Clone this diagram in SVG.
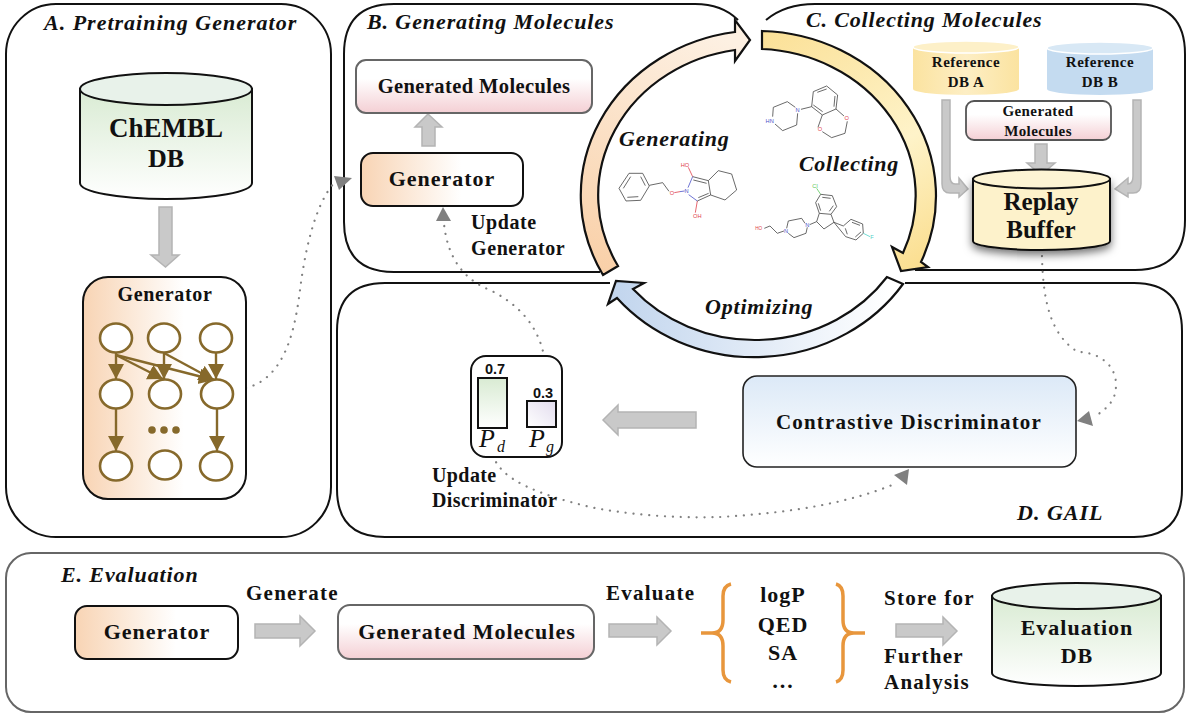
<svg xmlns="http://www.w3.org/2000/svg" width="1190" height="717" viewBox="0 0 1190 717">
<style>
text{font-family:"Liberation Serif","Times New Roman",serif;font-weight:bold;fill:#111}
.t{font-style:italic;font-size:22px;letter-spacing:.9px}
.c{text-anchor:middle}
.s{font-size:21px;letter-spacing:1.25px}
.panel{fill:none;stroke:#111;stroke-width:2}
.ga{fill:#c9c9c9;stroke:#b4b4b4;stroke-width:1.5}
.dot{fill:none;stroke:#808080;stroke-width:2.200;stroke-linecap:round;stroke-dasharray:.1 7.800}
.hd{fill:#808080}
.n{fill:#fff;stroke:#86692b;stroke-width:2.6}
.e{stroke:#86692b;stroke-width:2.4;fill:none;marker-end:url(#br)}
.arc{stroke:#111;stroke-width:2.2;stroke-linejoin:miter}
.m{fill:none;stroke:#444;stroke-width:2.4}
.mr{fill:none;stroke:#e0404a;stroke-width:2.4}
.mb{fill:none;stroke:#4a50c8;stroke-width:2.4}
.a{font-family:"Liberation Sans",Arial,sans-serif;font-weight:normal;font-size:17px}
.brace{fill:none;stroke:#e8963c;stroke-width:3.5}
</style>
<defs>
<marker id="br" markerUnits="userSpaceOnUse" markerWidth="18" markerHeight="18" refX="15" refY="8" orient="auto"><path d="M0 0L15 8L0 16Z" fill="#86692b"/></marker>
<linearGradient id="green" x1="0" y1="0" x2="0" y2="1"><stop offset="0" stop-color="#d9ebd3"/><stop offset="1" stop-color="#fff"/></linearGradient>
<linearGradient id="peach" x1="0" y1="0" x2="1" y2="0"><stop offset="0" stop-color="#f8d4b4"/><stop offset=".62" stop-color="#fff"/><stop offset="1" stop-color="#fff"/></linearGradient>
<linearGradient id="pink" x1="0" y1="0" x2="0" y2="1"><stop offset="0" stop-color="#fff"/><stop offset=".35" stop-color="#fff"/><stop offset="1" stop-color="#f4cfd4"/></linearGradient>
<linearGradient id="blue" x1="0" y1="0" x2="0" y2="1"><stop offset="0" stop-color="#dce9f7"/><stop offset="1" stop-color="#fff"/></linearGradient>
<linearGradient id="ya" x1="0" y1="0" x2="1" y2="0"><stop offset="0" stop-color="#fbe3a0"/><stop offset=".5" stop-color="#fdeec4"/><stop offset="1" stop-color="#fbe3a0"/></linearGradient>
<linearGradient id="ba" x1="0" y1="0" x2="1" y2="0"><stop offset="0" stop-color="#c4dbf0"/><stop offset="1" stop-color="#c4dbf0"/></linearGradient>
<linearGradient id="aO" gradientUnits="userSpaceOnUse" x1="600" y1="280" x2="700" y2="30"><stop offset="0" stop-color="#f9cfa6"/><stop offset="1" stop-color="#fdf0e2"/></linearGradient>
<linearGradient id="aY" gradientUnits="userSpaceOnUse" x1="762" y1="30" x2="905" y2="270"><stop offset="0" stop-color="#fbe096"/><stop offset=".6" stop-color="#fef3c9"/><stop offset="1" stop-color="#fbdf92"/></linearGradient>
<linearGradient id="aB" gradientUnits="userSpaceOnUse" x1="620" y1="300" x2="890" y2="300"><stop offset="0" stop-color="#c3d6ee"/><stop offset="1" stop-color="#fff"/></linearGradient>
<linearGradient id="pg" x1="1" y1="0" x2="0" y2="1"><stop offset="0" stop-color="#e2dcee"/><stop offset="1" stop-color="#fff"/></linearGradient>
<filter id="sh" x="-10%" y="-10%" width="120%" height="130%"><feDropShadow dx="0" dy="4" stdDeviation="4" flood-color="#000" flood-opacity=".55"/></filter>
</defs>

<g id="panel-a"><rect class="panel" x="6" y="4" width="325" height="533" rx="50"/><text class="t" x="44" y="30" style="letter-spacing:1px">A. Pretraining Generator</text></g>
<g id="panel-b"><path class="panel" d="M600 272H394Q344 272 344 222V54Q344 4 394 4H695Q722 4 738 20"/><text class="t" x="367" y="29">B. Generating Molecules</text></g>
<g id="panel-c"><path class="panel" d="M766 20Q785 4 815 4H1135Q1185 4 1185 54V220Q1185 270 1135 270H915"/><text class="t" x="806" y="27" style="letter-spacing:.85px">C. Collecting Molecules</text></g>
<g id="panel-d"><path class="panel" d="M610 283H385Q337 283 337 331V489Q337 537 385 537H1134Q1182 537 1182 489V331Q1182 283 1134 283H905"/><text class="t" x="1017" y="520" style="letter-spacing:1px">D. GAIL</text></g>
<g id="panel-e"><rect x="6" y="553" width="1178" height="159" rx="25" fill="none" stroke="#666" stroke-width="2"/><text class="t" x="61" y="582">E. Evaluation</text></g>

<g id="cycle">
<path class="arc" fill="url(#aO)" d="M603 275A179 165 0 0 1 735 32L735 20L750 40L735 61L735 50A161 147 0 0 0 618 266Z"/>
<path class="arc" fill="url(#aY)" d="M762 31A179 165 0 0 1 921 262L928 267L901 271L892 247L903 253A161 147 0 0 0 762 49Z"/>
<path class="arc" fill="url(#aB)" d="M903 284A179 165 0 0 1 617 298L608 304L616 281L644 283L633 289A161 147 0 0 0 887 277Z"/>
<text class="t" x="619" y="146" style="letter-spacing:.8px">Generating</text>
<text class="t" x="799" y="171" style="letter-spacing:.7px">Collecting</text>
<text class="t" x="705" y="314" style="letter-spacing:.8px">Optimizing</text>
</g>

<g id="molecules" transform="translate(570 20) scale(.3333)">
<path class="m" d="M147 505L177 460L218 460L238 498L212 541L168 543ZM160 505L182 470M212 470L226 497M205 530L172 532M238 496L278 488L297 514"/>
<path class="mr" d="M313 518L330 515M355 442L368 470M382 543L376 578"/>
<path class="mb" d="M330 515L344 513M354 503L368 470M356 524L382 543"/>
<path class="m" d="M368 470L415 482L422 525L382 543M370 480L410 490M385 533L416 520M415 482L445 452L485 462L500 510L465 540L422 525"/>
<text class="a c" x="306" y="526" style="fill:#e0404a">O</text><text class="a c" x="350" y="520" style="fill:#4a50c8">N</text>
<text class="a c" x="345" y="440" style="fill:#e0404a">HO</text><text class="a c" x="382" y="595" style="fill:#e0404a">OH</text>

<path class="m" d="M730 215L770 198L803 225L798 267L757 285L725 260ZM742 217L770 207M795 228L792 260M758 275L730 255M798 267L822 288M832 304L825 340L785 353L757 335M744 322L757 285M725 260L693 268M676 262L652 245L610 262L608 290M615 312L638 332L680 315L683 280"/>
<text class="a c" x="830" y="301" style="fill:#e0404a">O</text><text class="a c" x="750" y="333" style="fill:#e0404a">O</text>
<text class="a c" x="683" y="277" style="fill:#4a50c8">N</text><text class="a c" x="599" y="310" style="fill:#4a50c8">HN</text>

<path class="m" d="M752 523L787 527L800 560L783 583L748 580L737 548ZM757 532L782 535M790 557L778 574M752 572L745 550M748 580L740 605L762 627L792 607L783 583M740 605L719 614M792 607L820 618L843 598L878 612L880 640L858 660L827 650ZM846 607L870 616M873 636L856 651M832 643L826 625M705 610L695 595L655 603L650 625M655 640L672 653L708 640L712 622M642 633L622 640L600 618L583 625"/>
<path d="M740 505L752 523" stroke="#5ac85a" stroke-width="2.4"/>
<path d="M880 640L900 650" stroke="#50d0c8" stroke-width="2.4"/>
<text class="a c" x="735" y="503" style="fill:#5ac85a">Cl</text><text class="a c" x="906" y="656" style="fill:#50d0c8">F</text>
<text class="a c" x="712" y="621" style="fill:#4a50c8">N</text><text class="a c" x="648" y="638" style="fill:#4a50c8">N</text>
<text class="a c" x="566" y="631" style="fill:#e0404a;font-size:14px">HO</text>
</g>

<g id="connectors">
<path class="ga" d="M159 207H172V255H179L165.500 267L151 255H159Z"/>
<path class="ga" d="M422 146V127H415L428 114L442 127H435V146Z"/>
<path class="ga" d="M1035 144H1047V163H1055L1041 175L1027 163H1035Z"/>
<path class="ga" d="M942 100H950V176Q950 184 955 184H959V178L968 189L959 197V193H950Q942 193 942 184Z"/>
<path class="ga" d="M1141 100H1133V176Q1133 184 1128 184V178L1115 189L1128 197V193H1133Q1141 193 1141 184Z"/>
<path class="ga" d="M696 412V428H618V435L603 420L618 405V412Z"/>
<path class="ga" d="M255 624H300V616L315 631L300 646V638H255Z"/>
<path class="ga" d="M609 624H657V617L671 631L657 645V637H609Z"/>
<path class="ga" d="M896 624H943V617L957 631L943 645V637H896Z"/>
<path class="dot" d="M246 388C285 378 295 330 300 290C305 250 315 205 334 183"/>
<path class="hd" d="M352 178L334 176L339 190Z"/>
<path class="dot" d="M546 374C545 340 530 310 490 290C465 280 448 260 444 224"/>
<path class="hd" d="M443 207L436 221L451 221Z"/>
<path class="dot" d="M493 455C500 480 540 495 590 507C640 517 690 518 720 517C790 513 850 503 897 483"/>
<path class="hd" d="M909 469L894 475L907 485Z"/>
<path class="dot" d="M1042 256C1043 300 1050 335 1078 352C1095 352 1116 362 1116 385C1116 400 1108 408 1094 417"/>
<path class="hd" d="M1077 421L1089 411L1093 426Z"/>
</g>

<g id="chembl-db">
<path d="M80 89V183A86 16 0 0 0 252 183V89Z" fill="url(#green)" stroke="#111" stroke-width="2"/>
<ellipse cx="166" cy="89" rx="86" ry="16" fill="#e8f2ea" stroke="#111" stroke-width="2"/>
<text class="c" x="166" y="137" font-size="27">ChEMBL</text><text class="c" x="166" y="167" font-size="26">DB</text>
</g>

<g id="generator-network">
<rect x="83" y="277" width="163" height="222" rx="25" fill="url(#peach)" stroke="#111" stroke-width="2"/>
<text class="c" x="165" y="301" font-size="20" letter-spacing=".7">Generator</text>
<path class="e" d="M116 353V379"/><path class="e" d="M116 355L163 379"/><path class="e" d="M116 355L214 380"/>
<path class="e" d="M164 353V379"/><path class="e" d="M164 353L214 380"/><path class="e" d="M216 353V379"/>
<path class="e" d="M116 409V451"/><path class="e" d="M217 409V451"/>
<ellipse class="n" cx="116" cy="338" rx="16" ry="14.500"/><ellipse class="n" cx="164" cy="338" rx="16" ry="14.500"/><ellipse class="n" cx="216" cy="338" rx="16" ry="14.500"/>
<ellipse class="n" cx="116" cy="394" rx="16" ry="14.500"/><ellipse class="n" cx="165" cy="394" rx="16" ry="14.500"/><ellipse class="n" cx="217" cy="394" rx="16" ry="14.500"/>
<ellipse class="n" cx="116" cy="466" rx="16" ry="14.500"/><ellipse class="n" cx="165" cy="465" rx="16" ry="14.500"/><ellipse class="n" cx="216" cy="466" rx="16" ry="14.500"/>
<circle cx="152" cy="430" r="3.800" fill="#86692b"/><circle cx="164" cy="430" r="3.800" fill="#86692b"/><circle cx="176" cy="430" r="3.800" fill="#86692b"/>
</g>

<g id="generated-b"><rect x="356" y="60" width="236" height="53" rx="10" fill="url(#pink)" stroke="#666" stroke-width="2"/><text class="c" x="474" y="93" font-size="20.500" letter-spacing=".4">Generated Molecules</text></g>
<g id="generator-b"><rect x="361" y="153" width="162" height="53" rx="12" fill="url(#peach)" stroke="#111" stroke-width="2"/><text class="c" x="442" y="186" font-size="22" letter-spacing="1">Generator</text></g>
<g id="update-generator"><text x="471" y="229" font-size="20" letter-spacing=".6">Update</text><text x="471" y="255" font-size="20" letter-spacing=".6">Generator</text></g>

<g id="ref-a">
<path d="M913 47V89A53 6 0 0 0 1019 89V47Z" fill="url(#ya)"/>
<ellipse cx="966" cy="47" rx="53" ry="6" fill="#fdf0c8" stroke="#fff" stroke-width="1.500"/>
<text class="c" x="966" y="67" font-size="15" letter-spacing=".5">Reference</text><text class="c" x="966" y="87" font-size="15" letter-spacing=".5">DB A</text>
</g>
<g id="ref-b">
<path d="M1047 48V89A53 6 0 0 0 1153 89V48Z" fill="url(#ba)"/>
<ellipse cx="1100" cy="48" rx="53" ry="6" fill="#d8e8f5" stroke="#fff" stroke-width="1.500"/>
<text class="c" x="1100" y="67" font-size="15" letter-spacing=".5">Reference</text><text class="c" x="1100" y="87" font-size="15" letter-spacing=".5">DB B</text>
</g>
<g id="generated-c"><rect x="966" y="101" width="145" height="39" rx="8" fill="url(#pink)" stroke="#555" stroke-width="1.800"/><text class="c" x="1038" y="116" font-size="15" letter-spacing=".4">Generated</text><text class="c" x="1038" y="136" font-size="15" letter-spacing=".4">Molecules</text></g>
<g id="replay-buffer">
<path d="M973 179V241A68.500 9 0 0 0 1110 241V179Z" fill="#fdf2cb" stroke="#111" stroke-width="2" filter="url(#sh)"/>
<ellipse cx="1041.500" cy="179" rx="68.500" ry="9.500" fill="#fdf4d4" stroke="#111" stroke-width="2"/>
<text class="c" x="1041" y="210" font-size="25">Replay</text><text class="c" x="1041" y="238" font-size="25">Buffer</text>
</g>

<g id="discriminator"><rect x="743" y="376" width="333" height="91" rx="14" fill="url(#blue)" stroke="#222" stroke-width="1.600"/><text class="c" x="909" y="429" font-size="21" letter-spacing="1.200">Contrastive Discriminator</text></g>
<g id="probabilities">
<rect x="471" y="356" width="91" height="101" rx="15" fill="#fff" stroke="#111" stroke-width="2"/>
<rect x="478" y="378" width="29" height="50" fill="url(#green)" stroke="#111" stroke-width="2"/>
<rect x="527" y="401" width="29" height="26" fill="url(#pg)" stroke="#111" stroke-width="2"/>
<text class="c" x="495" y="374" style="font-family:'Liberation Sans',Arial,sans-serif;font-size:14.500px">0.7</text>
<text class="c" x="543" y="398" style="font-family:'Liberation Sans',Arial,sans-serif;font-size:14.500px">0.3</text>
<text x="479" y="447" style="font-style:italic;font-weight:normal;font-size:26px">P</text><text x="497" y="452" style="font-style:italic;font-weight:normal;font-size:16px">d</text>
<text x="529" y="447" style="font-style:italic;font-weight:normal;font-size:26px">P</text><text x="546" y="452" style="font-style:italic;font-weight:normal;font-size:16px">g</text>
</g>
<g id="update-discriminator"><text x="432" y="482" font-size="20" letter-spacing=".4">Update</text><text x="432" y="507" font-size="20" letter-spacing=".4">Discriminator</text></g>

<g id="generator-e"><rect x="75" y="606" width="163" height="53" rx="12" fill="url(#peach)" stroke="#111" stroke-width="2"/><text class="c" x="157" y="639" font-size="22" letter-spacing="1">Generator</text></g>
<text class="s" x="246" y="600">Generate</text>
<g id="generated-e"><rect x="338" y="605" width="256" height="54" rx="12" fill="url(#pink)" stroke="#666" stroke-width="2"/><text class="c" x="467" y="639" font-size="22" letter-spacing="1">Generated Molecules</text></g>
<text class="s" x="606" y="600">Evaluate</text>
<g id="metrics">
<path class="brace" d="M731 584Q723 586 723 596V620Q723 633 712 633H701M712 633Q723 633 723 646V670Q723 680 731 682"/>
<path class="brace" d="M836 584Q843 586 843 596V620Q843 633 854 633H865M854 633Q843 633 843 646V670Q843 680 836 682"/>
<g font-size="22" letter-spacing="1"><text class="c" x="783" y="602">logP</text><text class="c" x="783" y="632">QED</text><text class="c" x="783" y="660">SA</text><text class="c" x="783" y="688">…</text></g>
</g>
<g id="store-label"><text class="s" x="884" y="605">Store for</text><text class="s" x="884" y="663">Further</text><text class="s" x="884" y="689">Analysis</text></g>
<g id="evaluation-db">
<path d="M992 596V673A84.500 13 0 0 0 1161 673V596Z" fill="url(#green)" stroke="#111" stroke-width="2"/>
<ellipse cx="1076.500" cy="596" rx="84.500" ry="13" fill="#e8f2ea" stroke="#111" stroke-width="2"/>
<text class="c" x="1077" y="635" font-size="22" letter-spacing="1">Evaluation</text><text class="c" x="1077" y="663" font-size="22" letter-spacing="1">DB</text>
</g>
</svg>
